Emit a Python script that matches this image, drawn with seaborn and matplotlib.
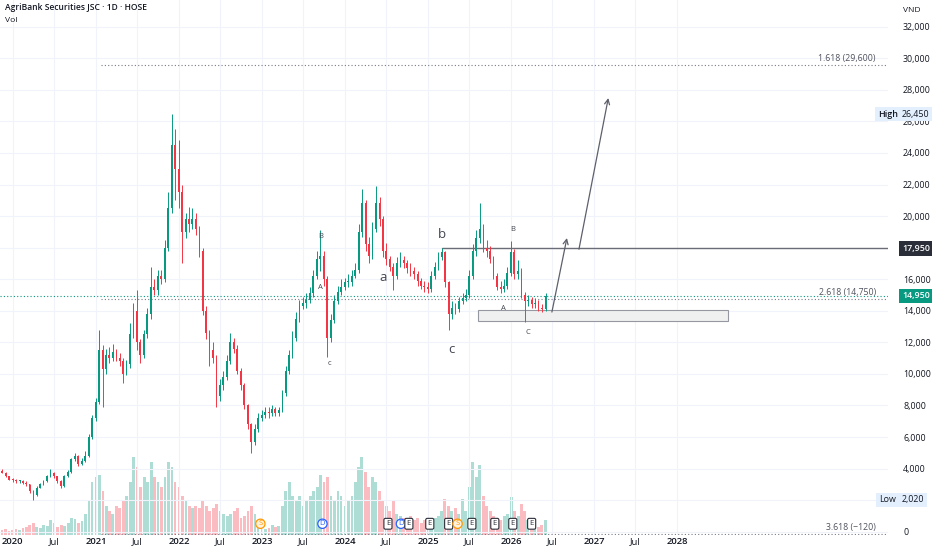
import numpy as np
import pandas as pd
import matplotlib
matplotlib.use("Agg")
import matplotlib.pyplot as plt
import matplotlib.dates as mdates
import matplotlib.transforms as mtransforms
from matplotlib.patches import Rectangle
import seaborn as sns

# ======== DATA =========
# half-month candles
dates = pd.date_range("2019-11-15", periods=158, freq="SMS")

close = [3750, 3500, 3300, 3250, 3200, 3200, 3100, 3000, 2600, 2300,
         2800, 3000, 3200, 3500, 3700, 3500, 3200, 2900, 3500, 3800,
         4600, 4800, 4300, 4500, 4800, 6000, 7200, 8200, 11500, 10300,
         11200, 11000, 11400, 11000, 10800, 10000, 10600, 12500, 14000, 12000,
         11200, 12500, 13800, 15500, 15300, 16200, 16000, 18000, 20500, 24500,
         23000, 21500, 19000, 19800, 19500, 19800, 19200, 17800, 14000, 12600,
         11500, 11000, 8600, 9300, 9800, 10800, 12000, 11600, 10200, 9300,
         8000, 6800, 5700, 6500, 7200, 7400, 7600, 7500, 7800, 7500,
         7700, 8800, 10200, 11200, 12300, 13500, 14300, 14500, 14700, 15100,
         16200, 17300, 17500, 16000, 12300, 13400, 14600, 15200, 15500, 15800,
         15800, 16200, 16600, 19000, 20800, 18200, 17500, 19200, 20800, 19800,
         17800, 17300, 16800, 16200, 17000, 17200, 17000, 16700, 16500, 16300,
         15900, 15600, 15500, 15400, 16200, 16800, 17400, 17700, 15800, 13800,
         14200, 14100, 14600, 14800, 15000, 16200, 17800, 18600, 19200, 18000,
         17800, 17300, 16200, 15500, 15400, 15600, 16400, 17700, 16300, 16500,
         15000, 14600, 14700, 14400, 14500, 14200, 14100, 14950]

high = [3950, 3800, 3550, 3400, 3350, 3300, 3300, 3200, 3050, 2650,
        2900, 3100, 3300, 3600, 3950, 3800, 3550, 3250, 3600, 3900,
        4700, 5000, 4850, 4650, 5100, 6200, 7400, 8500, 12800, 11800,
        11600, 11700, 11900, 11600, 11300, 11000, 10900, 13200, 14500, 15300,
        12200, 12800, 14200, 16800, 16000, 16600, 16600, 18500, 21500, 26450,
        25500, 24800, 22000, 20200, 20600, 20500, 20200, 19400, 18000, 14300,
        12800, 12000, 11200, 9700, 10200, 11200, 12600, 12300, 11800, 10400,
        9400, 8100, 6900, 6800, 7500, 7700, 7900, 7900, 8000, 7900,
        7900, 9000, 10500, 11500, 12700, 13900, 14700, 14900, 15100, 15500,
        16600, 17800, 19100, 17800, 16200, 13800, 15000, 15600, 16000, 16100,
        16300, 16600, 17000, 19500, 21700, 21000, 18700, 19600, 21900, 21200,
        20000, 18300, 17500, 17000, 17400, 17700, 17500, 17200, 17000, 16800,
        16500, 16100, 15900, 15800, 16500, 17100, 17700, 17950, 17800, 15900,
        14600, 14500, 14900, 15100, 15400, 16600, 18200, 19100, 20800, 19500,
        18500, 18100, 17500, 16400, 15900, 16000, 16800, 18400, 17900, 17200,
        16700, 15200, 15000, 14900, 14800, 14700, 14400, 15100]

low = [3700, 3450, 3250, 3150, 3100, 3100, 3000, 2900, 2450, 2020,
       2250, 2750, 2950, 3150, 3450, 3400, 3100, 2800, 2850, 3450,
       3750, 4500, 4150, 4200, 4400, 4750, 5900, 7000, 8100, 7900,
       10000, 10700, 10800, 10800, 10500, 9400, 9900, 10400, 12300, 11500,
       10700, 11000, 12300, 13500, 15000, 15000, 15700, 15800, 17800, 20200,
       21000, 20500, 17000, 18600, 19000, 19200, 18800, 17400, 13700, 12200,
       10500, 10700, 7900, 8300, 9000, 9600, 10600, 11300, 10000, 9000,
       7800, 6500, 5000, 5500, 6300, 7000, 7200, 7200, 7300, 7300,
       7300, 7600, 8600, 10000, 11000, 12100, 13300, 14100, 14200, 14500,
       14900, 16000, 16500, 15600, 11100, 12000, 13200, 14400, 15000, 15300,
       15500, 15600, 16100, 16400, 18700, 17800, 17000, 17300, 19000, 19400,
       17400, 16900, 16500, 15300, 16000, 16800, 16700, 16400, 16200, 16000,
       15600, 15400, 15200, 15100, 15200, 16000, 16600, 17200, 15500, 12800,
       13500, 13800, 13900, 14400, 14600, 14800, 16000, 17500, 18300, 17700,
       17400, 17000, 16000, 15300, 15100, 15200, 15400, 16200, 16000, 16000,
       14800, 13300, 14300, 14200, 14200, 14000, 13900, 14000]

# volume, millions of shares
vol_m = [5, 6, 4, 5, 6, 5, 7, 8, 10, 12,
         8, 7, 10, 9, 15, 12, 8, 10, 9, 12,
         18, 16, 12, 14, 22, 35, 55, 60, 62, 45,
         30, 25, 22, 30, 28, 35, 40, 55, 80, 70,
         50, 60, 55, 75, 60, 55, 50, 60, 75, 70,
         55, 50, 40, 35, 30, 28, 30, 28, 35, 30,
         25, 28, 32, 25, 22, 20, 22, 25, 28, 18,
         20, 25, 30, 22, 15, 8, 6, 7, 10, 8,
         9, 30, 45, 55, 40, 35, 40, 30, 35, 40,
         45, 50, 62, 55, 60, 40, 35, 45, 40, 30,
         35, 40, 55, 70, 80, 65, 50, 60, 55, 45,
         35, 30, 25, 35, 22, 20, 18, 15, 20, 15,
         18, 12, 15, 12, 15, 18, 20, 25, 37, 30,
         25, 28, 22, 37, 25, 50, 75, 60, 72, 40,
         30, 25, 20, 18, 15, 20, 22, 39, 25, 20,
         32, 25, 15, 12, 10, 8, 10, 15]

first_open = 3850
opn = [first_open] + close[:-1]

# events along the bottom: E earnings, S split, D dividend
ev_dates = ["2022-12-25", "2023-09-24", "2024-07-08", "2024-09-03", "2024-10-08",
            "2025-01-08", "2025-04-01", "2025-05-10", "2025-07-12", "2025-10-21",
            "2026-01-08", "2026-04-01"]
ev_kinds = ["S", "D", "E", "D", "E", "E", "E", "S", "E", "E", "E", "E"]

# wave labels
wave_text = ["B", "A", "c", "a", "b", "c", "B", "A", "C"]
wave_dates = ["2023-09-16", "2023-09-16", "2023-10-25", "2024-06-15", "2025-03-02",
              "2025-04-15", "2026-01-08", "2025-11-26", "2026-03-14"]
wave_price = [18700, 15500, 10650, 16100, 18820, 11530, 19140, 14130, 12610]
wave_big = [False, False, False, True, True, True, False, False, False]

# fibonacci levels
fib_names = ["1.618", "2.618", "3.618"]
fib_price = [29600, 14750, -120]
fib_start = "2021-01-24"

last_price = 14950
high_price = 26450
low_price = 2020
resist = 17950
resist_start = "2025-03-01"

box_dates = ["2025-08-10", "2028-08-13"]
box_prices = [13370, 14050]

arrow_from_dates = ["2026-06-29", "2026-10-26"]
arrow_from_price = [13920, 17900]
arrow_to_dates = ["2026-09-03", "2027-03-04"]
arrow_to_price = [18610, 27480]

# ======== PLOT =========
sns.set_style("white")
plt.rcParams["font.family"] = ["Open Sans", "DejaVu Sans"]

UP = "#089981"
DOWN = "#f23645"
TXT = "#131722"
GREY = "#787b86"

fig = plt.figure(figsize=(9.32, 5.5), dpi=100)
rect = [0, 15 / 550, 888 / 932, 535 / 550]
axv = fig.add_axes(rect)
ax = fig.add_axes(rect, sharex=axv)
ax.patch.set_visible(False)

x0 = pd.Timestamp("2019-11-06")
x1 = pd.Timestamp("2030-07-16")

up = [c >= o for o, c in zip(opn, close)]
cols = [UP if u else DOWN for u in up]

# volume
axv.bar(dates, vol_m, width=12, color=cols, alpha=0.33, linewidth=0)
axv.set_ylim(0, max(vol_m) * 6.9)
axv.set_yticks([])
for s in axv.spines.values():
    s.set_visible(False)
axv.tick_params(axis="x", length=0, labelbottom=False)

# candles
body_lo = [min(o, c) for o, c in zip(opn, close)]
body_h = [max(abs(c - o), 60) for o, c in zip(opn, close)]
ax.vlines(dates, low, high, colors=cols, lw=0.7, zorder=3)
ax.bar(dates, body_h, bottom=body_lo, width=8, color=cols, linewidth=0, zorder=4)

ax.set_xlim(x0, x1)
ax.set_ylim(-209, 33692)

# grid / ticks
yt = list(range(0, 32001, 2000))
ax.set_yticks(yt)
ax.set_yticklabels([f"{v:,}" for v in yt])
ax.yaxis.tick_right()
xt = [pd.Timestamp(f"{y}-{m:02d}-01") for y in range(2020, 2029) for m in (1, 7)][:-1]
ax.set_xticks(xt)
ax.set_xticklabels([str(t.year) if t.month == 1 else "Jul" for t in xt])
for lab, t in zip(ax.get_xticklabels(), xt):
    if t.month == 1:
        lab.set_fontweight("semibold")
ax.tick_params(axis="y", length=0, pad=10.8, labelsize=6.4, labelcolor=TXT)
ax.tick_params(axis="x", length=0, pad=1.5, labelsize=6.8, labelcolor=TXT)
ax.grid(True, color="#f0f3fa", lw=0.8, zorder=0)
for s in ax.spines.values():
    s.set_visible(False)

# lines
xr = mdates.date2num(x1)
ax.axhline(last_price, color=UP, ls=(0, (1, 2)), lw=0.8, zorder=2)
fs = mdates.date2num(pd.Timestamp(fib_start))
for p in fib_price:
    ax.plot([fs, xr], [p, p], color=GREY, ls=(0, (1, 2)), lw=0.8, zorder=2)
rs = mdates.date2num(pd.Timestamp(resist_start))
ax.plot([rs, xr], [resist, resist], color="#6a6d78", lw=1.0, zorder=2)

b0 = mdates.date2num(pd.Timestamp(box_dates[0]))
b1 = mdates.date2num(pd.Timestamp(box_dates[1]))
ax.add_patch(Rectangle((b0, box_prices[0]), b1 - b0, box_prices[1] - box_prices[0],
                       fc="#f0f0f0", ec="#9598a1", lw=0.8, zorder=1))

for fd, fp, td, tp in zip(arrow_from_dates, arrow_from_price, arrow_to_dates, arrow_to_price):
    ax.annotate("", xy=(mdates.date2num(pd.Timestamp(td)), tp),
                xytext=(mdates.date2num(pd.Timestamp(fd)), fp),
                arrowprops=dict(arrowstyle="->", color="#5d606b", lw=0.9,
                                shrinkA=0, shrinkB=0, mutation_scale=9), zorder=5)

# wave labels
for t, d, p, big in zip(wave_text, wave_dates, wave_price, wave_big):
    ax.text(pd.Timestamp(d), p, t, ha="center", va="center",
            fontsize=9.5 if big else 5.5, color="#434651", zorder=6)

# fib labels
tra = mtransforms.blended_transform_factory(ax.transAxes, ax.transData)
for n, p in zip(fib_names, fib_price):
    ax.annotate(f"{n} ({p:,})".replace("-", "\u2212"), xy=(876 / 888, p), xycoords=tra,
                xytext=(0, 4.5), textcoords="offset points", ha="right", va="center",
                fontsize=6.3, color="#50535e")

# price tags on the axis
tx = 902 / 888
def tag(price, text, fc, tc, x=tx, weight="normal"):
    ax.text(x, price, text, transform=tra, ha="left", va="center", fontsize=6.4,
            color=tc, weight=weight, clip_on=False, zorder=10,
            bbox=dict(boxstyle="square,pad=0.3", fc=fc, ec="none"))

tag(resist, f"{resist:,}", "#2a2e39", "white", weight="semibold")
tag(last_price, f"{last_price:,}", UP, "white", weight="semibold")
tag(high_price, f"{high_price:,}", "#e3effd", TXT)
tag(high_price, "High", "#e3effd", TXT, x=878 / 888, weight="semibold")
tag(low_price, f"{low_price:,}", "#e3effd", TXT)
tag(low_price, "Low", "#e3effd", TXT, x=879 / 888)

# event markers
trb = mtransforms.blended_transform_factory(ax.transData, ax.transAxes)
for d, k in zip(ev_dates, ev_kinds):
    if k == "E":
        box = dict(boxstyle="round,pad=0.25,rounding_size=0.2", fc="white", ec="#2a2e39", lw=0.8)
        c = "#2a2e39"
    elif k == "S":
        box = dict(boxstyle="circle,pad=0.15", fc="#fff3e0", ec="#ff9800", lw=0.9)
        c = "#ff9800"
    else:
        box = dict(boxstyle="circle,pad=0.15", fc="white", ec="#2962ff", lw=0.9)
        c = "#2962ff"
    ax.text(pd.Timestamp(d), 0.021, k, transform=trb, ha="center", va="center",
            fontsize=5.5, color=c, bbox=box, zorder=8)

fig.text(5 / 932, 1 - 8 / 550, "AgriBank Securities JSC \u00b7 1D \u00b7 HOSE",
         fontsize=6.1, weight="semibold", color=TXT, va="center")
fig.text(5 / 932, 1 - 20 / 550, "Vol", fontsize=6.1, color=TXT, va="center")
fig.text(912 / 932, 1 - 10 / 550, "VND", fontsize=6, color=TXT, ha="center", va="center")

fig.savefig("out.png", dpi=100)
